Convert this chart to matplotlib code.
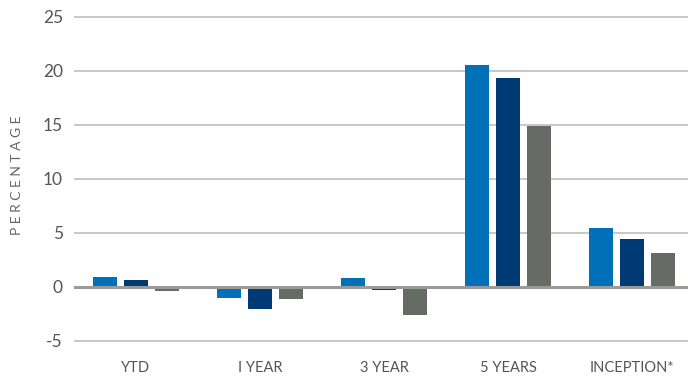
import numpy as np
import matplotlib.pyplot as plt

plt.rcParams['font.family'] = ['Lato', 'DejaVu Sans']
plt.rcParams['axes.unicode_minus'] = False

periods = ['YTD', 'I YEAR', '3 YEAR', '5 YEARS', 'INCEPTION*']
fund = [0.95, -1.0, 0.83, 20.55, 5.45]
peer = [0.65, -2.0, -0.25, 19.35, 4.45]
index = [-0.37, -1.1, -2.6, 14.9, 3.15]

colors = ['#0070b8', '#003a75', '#666b66']
yticks = [-5, 0, 5, 10, 15, 20, 25]

fig = plt.figure(figsize=(6.88, 3.77), dpi=100)
ax = fig.add_axes([74 / 688, 32.8 / 377, 614 / 688, 328.3 / 377])

x = np.arange(len(periods))
w = 0.194
for i, (vals, c) in enumerate(zip([fund, peer, index], colors)):
    ax.bar(x + (i - 1) * 0.25, vals, width=w, color=c, zorder=3)

for y in yticks:
    if y == 0:
        ax.axhline(0, color='#9a9a96', lw=2.2, zorder=4)
    else:
        ax.axhline(y, color='#c8c8c8', lw=1.4, zorder=1)

ax.set_xlim(-0.5, 4.45)
ax.set_ylim(-5.3, 25.1)
ax.set_yticks(yticks)
ax.set_yticklabels([str(v) for v in yticks], fontsize=12.5, color='#555555')
ax.set_xticks(x)
ax.set_xticklabels(periods, fontsize=10.5, color='#555555')
ax.tick_params(length=0)
ax.tick_params(axis='y', pad=8)
ax.tick_params(axis='x', pad=12)
for s in ax.spines.values():
    s.set_visible(False)

fig.text(17 / 688, 1 - 175 / 377, 'P E R C E N T A G E', rotation=90, ha='center', va='center',
         fontsize=10, color='#666666')

fig.savefig('out.png', dpi=100)
